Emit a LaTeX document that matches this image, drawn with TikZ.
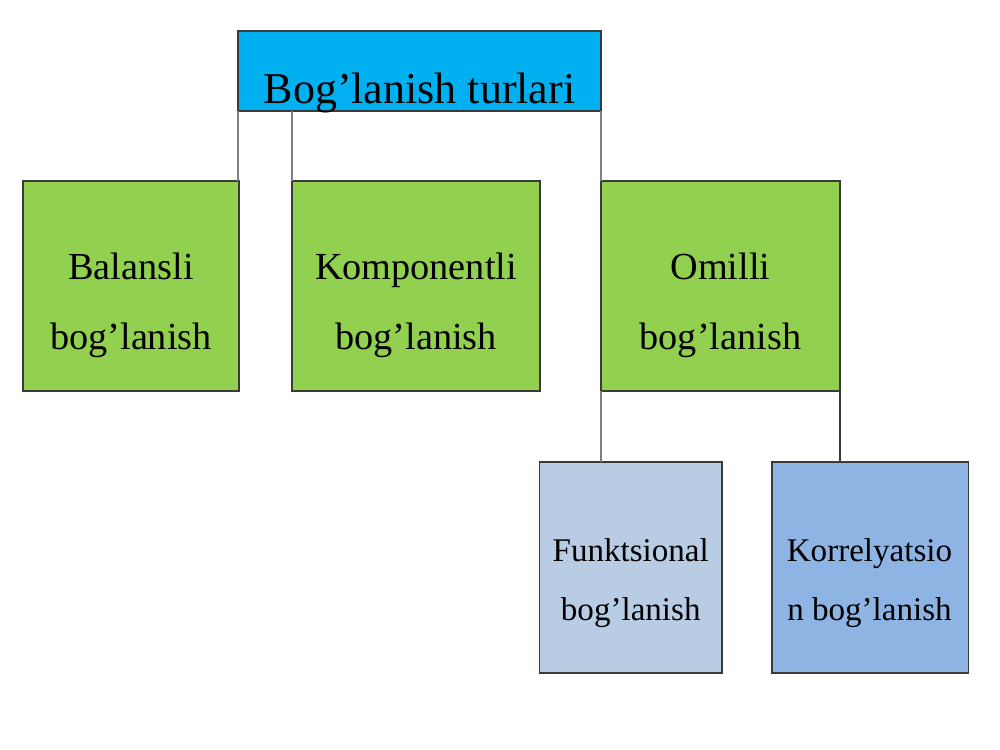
\documentclass[tikz,border=0pt]{standalone}
\usepackage{fontspec}
\setmainfont{Liberation Serif}
\definecolor{topblue}{HTML}{00B0F0}
\definecolor{boxgreen}{HTML}{92D050}
\definecolor{lightblue}{HTML}{B8CCE4}
\definecolor{midblue}{HTML}{8DB4E2}
\definecolor{edge}{HTML}{3A3A3A}
\definecolor{conn}{HTML}{808080}
\tikzset{
  box/.style={draw=edge, line width=0.8pt, inner sep=0pt, outer sep=0pt, rectangle},
  lbl/.style={anchor=base, inner sep=0pt},
  link/.style={draw=conn, line width=0.8pt},
  toptxt/.style={lbl, font=\fontsize{33}{36}\selectfont},
  greentxt/.style={lbl, font=\fontsize{28.7}{32}\selectfont},
  bluetxt/.style={lbl, font=\fontsize{24.8}{28}\selectfont},
}
\begin{document}
\begin{tikzpicture}[x=0.75pt,y=-0.75pt]
\useasboundingbox (0,0) rectangle (1000,750);
% boxes
\node[box, fill=topblue,   minimum width=272.25pt,  minimum height=60pt]     (top)  at (419.5,71)    {};
\node[box, fill=boxgreen,  minimum width=162pt,     minimum height=157.5pt]  (bal)  at (131,286)     {};
\node[box, fill=boxgreen,  minimum width=186pt,     minimum height=157.5pt]  (komp) at (416,286)     {};
\node[box, fill=boxgreen,  minimum width=179.25pt,  minimum height=157.5pt]  (omil) at (720.5,286)   {};
\node[box, fill=lightblue, minimum width=136.875pt, minimum height=158.25pt] (funk) at (630.75,567.5) {};
\node[box, fill=midblue,   minimum width=147.375pt, minimum height=158.25pt] (korr) at (870.25,567.5) {};
% connectors
\draw[link] (top.south west) -- (top.south west |- bal.north);
\draw[link] (komp.north west) -- (komp.north west |- top.south);
\draw[link] (top.south east) -- (omil.north west);
\draw[link] (omil.south west) -- (omil.south west |- funk.north);
\draw[link, draw=edge] (omil.south east) -- (omil.south east |- korr.north);
% texts
\node[toptxt] (ttop) at (419.5,103) {Bog’lanish turlari};
\node[greentxt] (tbal1) at (131,279) {Balansli};
\node[greentxt] (tbal2) at (131,349) {bog’lanish};
\node[greentxt] (tkomp1) at (416,279) {Komponentli};
\node[greentxt] (tkomp2) at (416,349) {bog’lanish};
\node[greentxt] (tomil1) at (720.5,279) {Omilli};
\node[greentxt] (tomil2) at (720.5,349) {bog’lanish};
\node[bluetxt] (tfunk1) at (630.75,561) {Funktsional};
\node[bluetxt] (tfunk2) at (630.75,620) {bog’lanish};
\node[bluetxt] (tkorr1) at (869.5,561) {Korrelyatsio};
\node[bluetxt] (tkorr2) at (869.5,620) {n bog’lanish};
\end{tikzpicture}
\end{document}
